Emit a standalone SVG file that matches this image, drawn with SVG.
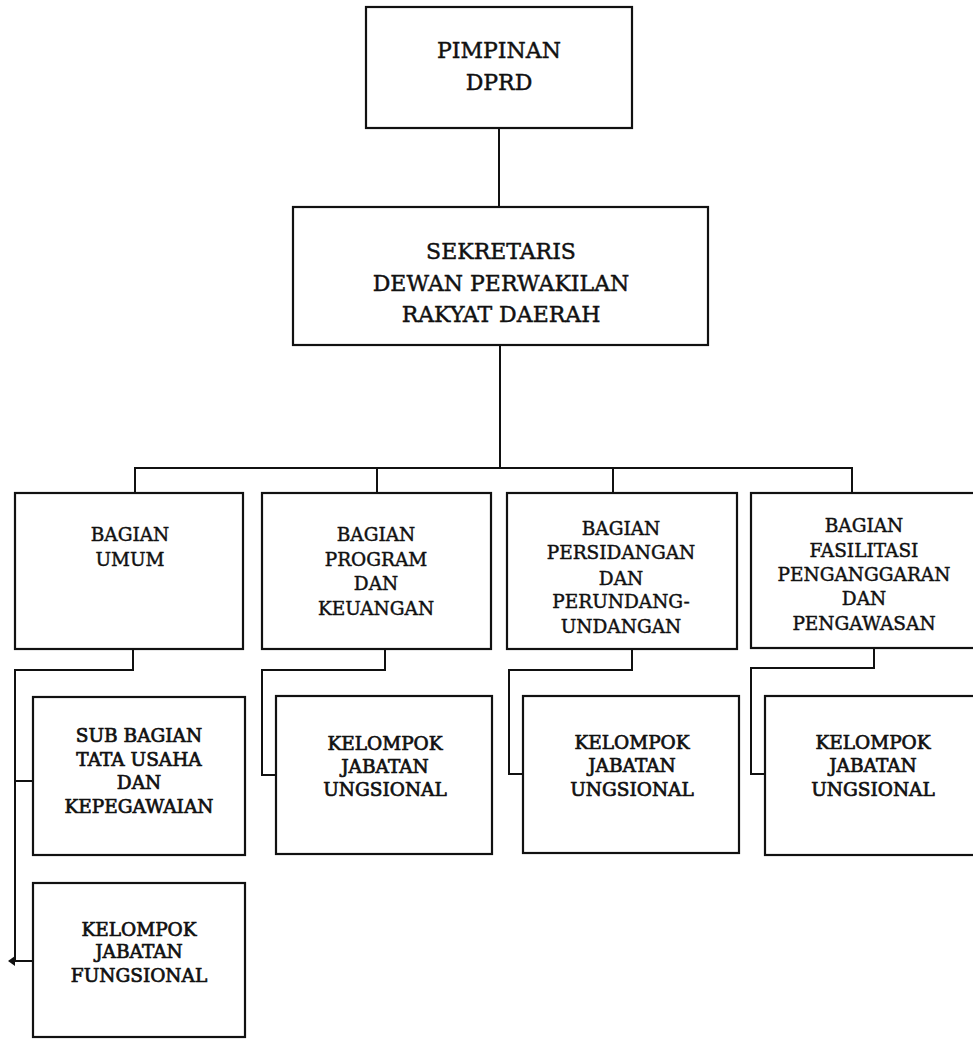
<svg xmlns="http://www.w3.org/2000/svg" width="973" height="1039" viewBox="0 0 973 1039">
<style>
.box{fill:#fff;stroke:#111;stroke-width:2.2}
.ln{fill:none;stroke:#111;stroke-width:2}
text{font-family:"DejaVu Serif","Liberation Serif",serif;fill:#111;stroke:#111;stroke-width:0.45;text-anchor:middle}
.big{font-size:22px}
.mid{font-size:18.5px}
.kel text{stroke-width:0.7}
</style>
<rect width="973" height="1039" fill="#fff"/>
<g id="connectors">
<path class="ln" d="M499 128V207"/>
<path class="ln" d="M500 345V468"/>
<path class="ln" d="M135 493V468H852V493"/>
<path class="ln" d="M377 468V493"/>
<path class="ln" d="M613 468V493"/>
<path class="ln" d="M133 649V670H15V961H33"/>
<path class="ln" d="M15 781H33"/>
<path class="ln" d="M385 649V670H262V775H276"/>
<path class="ln" d="M632 649V670H509V774H523"/>
<path class="ln" d="M874 648V668H751V774H765"/>
<path d="M8 961L15 956L15 966Z" fill="#111"/>
</g>
<g id="pimpinan"><rect class="box" x="366" y="7" width="266" height="121"/>
<text class="big" x="499" y="58">PIMPINAN</text><text class="big" x="499" y="90">DPRD</text></g>
<g id="sekretaris"><rect class="box" x="293" y="207" width="415" height="138"/>
<text class="big" x="501" y="259">SEKRETARIS</text><text class="big" x="501" y="291">DEWAN PERWAKILAN</text><text class="big" x="501" y="322">RAKYAT DAERAH</text></g>
<g id="umum"><rect class="box" x="15" y="493" width="228" height="156"/>
<text class="mid" x="130" y="541">BAGIAN</text><text class="mid" x="130" y="566">UMUM</text></g>
<g id="program"><rect class="box" x="262" y="493" width="229" height="156"/>
<text class="mid" x="376" y="541">BAGIAN</text><text class="mid" x="376" y="566">PROGRAM</text><text class="mid" x="376" y="590">DAN</text><text class="mid" x="376" y="615">KEUANGAN</text></g>
<g id="persidangan"><rect class="box" x="507" y="493" width="230" height="156"/>
<text class="mid" x="621" y="535">BAGIAN</text><text class="mid" x="621" y="559">PERSIDANGAN</text><text class="mid" x="621" y="585">DAN</text><text class="mid" x="621" y="608">PERUNDANG-</text><text class="mid" x="621" y="633">UNDANGAN</text></g>
<g id="fasilitasi"><rect class="box" x="751" y="493" width="230" height="155"/>
<text class="mid" x="864" y="532">BAGIAN</text><text class="mid" x="864" y="557">FASILITASI</text><text class="mid" x="864" y="581">PENGANGGARAN</text><text class="mid" x="864" y="605">DAN</text><text class="mid" x="864" y="630">PENGAWASAN</text></g>
<g id="subbagian" class="kel"><rect class="box" x="33" y="697" width="212" height="158"/>
<text class="mid" x="139" y="742">SUB BAGIAN</text><text class="mid" x="139" y="766">TATA USAHA</text><text class="mid" x="139" y="789">DAN</text><text class="mid" x="139" y="813">KEPEGAWAIAN</text></g>
<g id="kelompok-fungsional" class="kel"><rect class="box" x="33" y="883" width="212" height="154"/>
<text class="mid" x="139" y="936">KELOMPOK</text><text class="mid" x="139" y="958">JABATAN</text><text class="mid" x="139" y="982">FUNGSIONAL</text></g>
<g id="kelompok-program" class="kel"><rect class="box" x="276" y="696" width="216" height="158"/>
<text class="mid" x="385" y="750">KELOMPOK</text><text class="mid" x="385" y="773">JABATAN</text><text class="mid" x="385" y="796">UNGSIONAL</text></g>
<g id="kelompok-persidangan" class="kel"><rect class="box" x="523" y="696" width="216" height="157"/>
<text class="mid" x="632" y="749">KELOMPOK</text><text class="mid" x="632" y="772">JABATAN</text><text class="mid" x="632" y="796">UNGSIONAL</text></g>
<g id="kelompok-fasilitasi" class="kel"><rect class="box" x="765" y="696" width="216" height="159"/>
<text class="mid" x="873" y="749">KELOMPOK</text><text class="mid" x="873" y="772">JABATAN</text><text class="mid" x="873" y="796">UNGSIONAL</text></g>
</svg>
